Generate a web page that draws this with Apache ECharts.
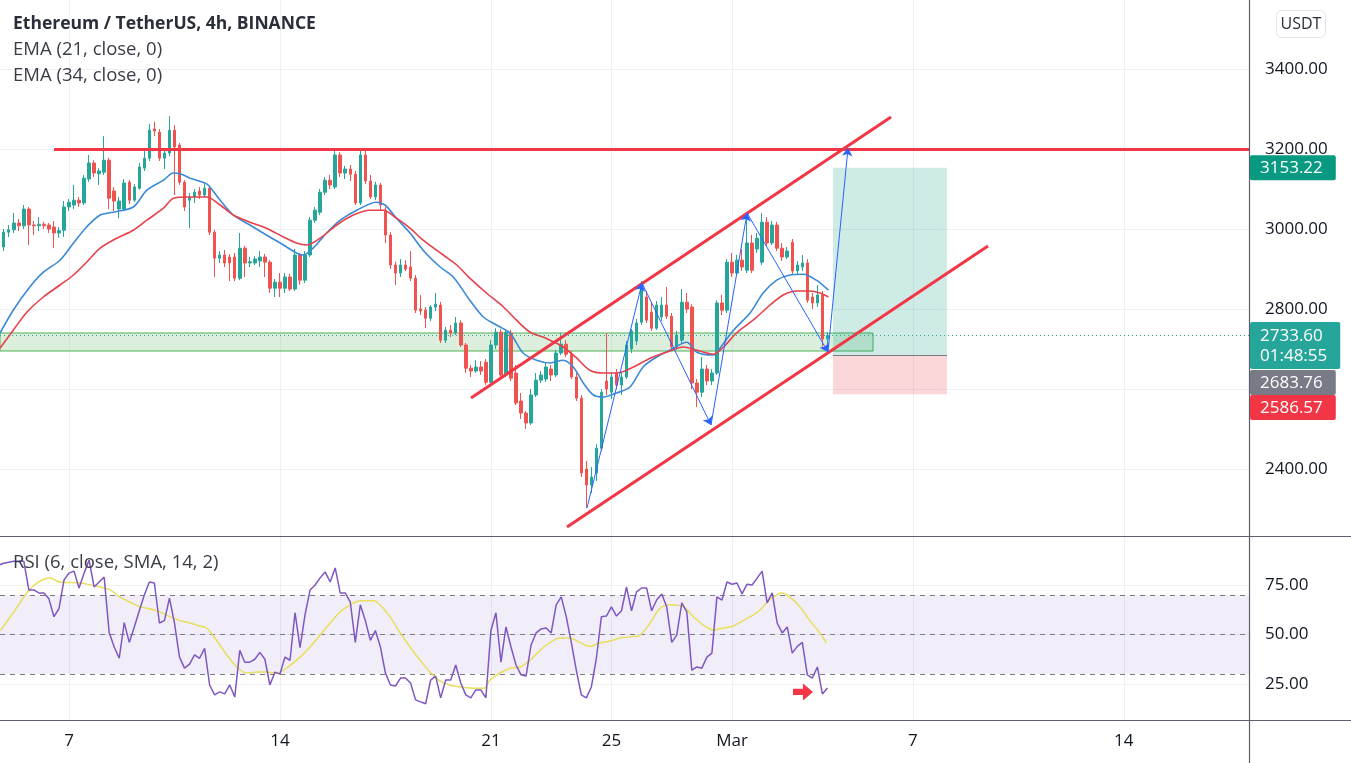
<!DOCTYPE html>
<html><head><meta charset="utf-8">
<script src="https://cdn.jsdelivr.net/npm/echarts@6/dist/echarts.min.js"></script>
<style>html,body{margin:0;padding:0;background:#fff}#c{width:1351px;height:763px}</style>
</head><body><div id="c"></div>
<script>
const FONT = '"Open Sans", "Noto Sans", sans-serif';
// time unit: days since 2022-02-01 00:00; 4h candles
const startDay = 3 + 16 / 24;   // first candle: Feb 4, 16:00
const stepDay = 4 / 24;
const xMin = 3.7104, xMax = 45.1558;

// [open, close, low, high]
const candles = [
[2875,2955,2860,2968],[2955,2992,2945,3000],[2992,2998,2980,3010],[2998,3015,2990,3040],[3015,3008,2995,3025],
[3008,3050,3000,3060],[3050,3010,2960,3055],[3010,3008,2985,3020],[3008,3012,2995,3030],[3012,3008,3000,3018],
[3010,3000,2990,3015],[3005,2990,2952,3020],[2990,2996,2978,3005],[2997,3055,2980,3070],[3055,3067,3045,3075],
[3060,3072,3050,3110],[3072,3065,3055,3080],[3065,3127,3060,3135],[3125,3165,3118,3185],[3165,3140,3130,3172],
[3138,3145,3110,3152],[3142,3172,3135,3232],[3172,3077,3050,3178],[3095,3070,3045,3105],[3050,3070,3027,3080],
[3050,3115,3045,3125],[3117,3072,3062,3122],[3072,3105,3068,3112],[3102,3155,3098,3165],[3152,3177,3145,3200],
[3177,3247,3170,3262],[3250,3245,3232,3268],[3242,3177,3170,3250],[3177,3190,3150,3200],[3190,3247,3182,3282],
[3247,3205,3085,3260],[3210,3117,3110,3215],[3117,3055,3045,3122],[3072,3080,3002,3090],[3080,3092,3065,3100],
[3095,3085,3075,3105],[3085,3102,3080,3115],[3102,2992,2985,3108],[2992,2927,2880,2998],[2927,2935,2915,2945],
[2935,2915,2905,2948],[2930,2915,2870,2937],[2930,2877,2870,2940],[2877,2952,2872,2990],[2952,2915,2880,2958],
[2915,2918,2905,2930],[2915,2925,2910,2932],[2920,2930,2905,2945],[2930,2917,2880,2938],[2917,2852,2840,2922],
[2852,2867,2830,2875],[2867,2852,2830,2890],[2852,2880,2840,2890],[2880,2850,2845,2888],[2850,2935,2845,2950],
[2935,2872,2860,2940],[2872,2935,2865,2945],[2935,3022,2930,3030],[3022,3047,3015,3055],[3042,3092,3035,3100],
[3092,3122,3085,3130],[3122,3110,3100,3135],[3105,3185,3100,3200],[3185,3140,3130,3192],[3140,3150,3125,3158],
[3150,3137,3120,3160],[3137,3065,3060,3145],[3065,3185,3060,3195],[3185,3120,3112,3195],[3120,3080,3075,3135],
[3080,3110,3072,3118],[3110,3060,3045,3115],[3047,2985,2965,3055],[2985,2910,2900,2992],[2910,2890,2860,2918],
[2890,2910,2880,2925],[2910,2900,2895,2922],[2905,2877,2870,2945],[2877,2797,2790,2885],[2800,2795,2785,2835],
[2797,2777,2752,2805],[2777,2805,2770,2810],[2805,2812,2795,2840],[2810,2722,2715,2818],[2722,2747,2715,2755],
[2747,2740,2730,2760],[2740,2765,2735,2780],[2765,2710,2705,2772],[2710,2652,2640,2715],[2652,2645,2630,2660],
[2645,2655,2640,2672],[2655,2645,2635,2670],[2667,2617,2610,2675],[2617,2710,2612,2722],[2710,2742,2700,2752],
[2742,2635,2625,2750],[2635,2742,2630,2748],[2740,2627,2620,2748],[2640,2565,2560,2660],[2570,2540,2525,2590],
[2540,2515,2500,2545],[2515,2585,2510,2600],[2585,2622,2580,2640],[2622,2635,2615,2645],[2625,2655,2618,2665],
[2650,2635,2620,2660],[2635,2690,2630,2698],[2690,2712,2685,2740],[2712,2687,2680,2722],[2687,2630,2625,2695],
[2630,2577,2570,2640],[2577,2390,2380,2585],[2400,2360,2302,2420],[2360,2380,2340,2405],[2390,2452,2370,2462],
[2452,2592,2445,2600],[2620,2600,2585,2740],[2592,2630,2575,2640],[2640,2610,2600,2650],[2610,2630,2585,2640],
[2630,2710,2625,2720],[2700,2745,2690,2750],[2720,2765,2710,2775],[2767,2855,2760,2870],[2830,2772,2765,2845],
[2792,2752,2745,2815],[2752,2810,2748,2820],[2780,2810,2770,2830],[2810,2782,2775,2855],[2782,2705,2700,2790],
[2705,2735,2698,2745],[2722,2817,2715,2850],[2817,2800,2790,2840],[2805,2615,2600,2812],[2615,2592,2555,2625],
[2592,2650,2580,2680],[2650,2620,2610,2660],[2620,2640,2610,2650],[2640,2815,2635,2822],[2815,2797,2785,2835],
[2797,2917,2790,2925],[2917,2890,2880,2940],[2890,2922,2885,2935],[2922,2905,2895,2950],[2897,2965,2890,3040],
[2965,2897,2890,2985],[2950,2977,2940,2990],[2917,3017,2910,3040],[3017,2965,2955,3030],[2965,3010,2960,3020],
[3010,2952,2945,3018],[2952,2930,2920,2965],[2930,2945,2925,2955],[2967,2895,2885,2975],[2895,2910,2885,2920],
[2905,2915,2895,2935],[2915,2822,2815,2925],[2830,2815,2800,2840],[2815,2835,2805,2860],[2835,2725,2700,2845],
[2725,2733.6,2690,2742]
];

// RSI(6) per candle
const rsi = [85,86,86.5,87,87,87,72.5,72.5,71,71,68,59,63,77.5,81,82,73.5,81,87.6,74,76.5,79,51,43.7,38,56,46,53.8,62,70,
76.5,76,55.8,57,68.4,55.8,38.6,33,35,39.7,38,43,24.5,19.5,21,20,24.5,18.4,42,36,36,37.5,41,37.5,24.5,31,30,38.6,37,61,
43.4,60,72.5,75,78.6,81.6,76.5,83.6,71,71,66.4,46,65,57,47,52,43.7,30.5,24.5,24,28,28,25.5,17,16,15,27,29,18,27,
27,34.6,25.5,19.5,18,22,22,18,52,61,36,53.8,43.7,34.6,29.6,29,44.7,50.8,52.8,53.3,50.8,65,69,59,46,32,19.5,18,23.5,38,
59,59.3,64,59.3,62,74,62,71.5,73.5,73.5,62,67.4,70.5,64,46,49.7,66,61.4,32,33.6,33,38.6,40.6,69,67.4,76.5,75.4,76,70.5,75.4,
75,78.5,82,66,71,55.8,50.8,53.8,40.6,44,46,29.6,28,33.6,20,23];

// RSI-based SMA(14), read at points: [candle index, value]
const rsiMA = [[0.3,52],[2.9,61],[5.6,71],[7.6,76],[10.2,78.5],[12.2,76.5],[16.2,76],[20.2,74],[22.2,72.5],[24.1,69],[26.1,66.4],
[28.1,64],[30.1,63],[32.1,61.4],[34.1,59],[36.1,57],[38.1,55.8],[40.1,54.3],[41.4,53.3],[43.4,47],[45.4,39.7],[47.4,33.6],
[49.4,30.5],[51.4,31],[53.3,31],[55.3,30.5],[57.3,33],[60,38.6],[62,43.7],[64,49.7],[66,55.8],[68,61.4],[70,65],[72,67],
[74.6,67],[75.9,65],[77.9,59],[79.9,51],[81.9,43.7],[83.9,37],[85.9,31],[87.9,26.5],[89.8,24.5],[91.8,23.5],[93.8,23],
[95.8,22.8],[96.8,23],[97.8,27],[99.8,30.5],[101.8,33],[103.8,33.6],[105.8,37],[107.8,42],[109.8,46],[111.7,48.2],
[113.7,48.2],[115.7,46],[117.7,44],[119.7,45.7],[121.7,46.7],[123.7,48.2],[125.7,48.8],[127.7,49.7],[129.7,55.8],
[131.6,63],[133.6,65],[136.3,64],[138.3,59],[140.3,54.8],[142.3,52.3],[144.3,53.3],[146.3,54.3],[148.2,57],[150.2,59.8],
[151.6,62.4],[152.9,66],[154.2,69],[155.9,71],[157.5,69],[159.5,64],[161.5,57],[163.5,50.8],[164.8,45.7]];

// EMA lines read at points: [candle index, price]
const ema21 = [[0.26,2740],[2.9,2797],[6.2,2855],[8.9,2892],[12.2,2922],[14.9,2965],[17.5,3005],[20.2,3035],[22.8,3042],
[26.8,3055],[29.5,3097],[32.8,3122],[34.8,3140],[36.4,3137],[38.1,3127],[40.7,3117],[41.7,3110],[44.1,3072],[46.7,3035],
[50,3010],[53.3,2985],[56.7,2960],[59,2942],[60.6,2935],[62.6,2952],[65.3,2990],[68,3022],[71.3,3047],[75.2,3067],
[76.9,3060],[79.2,3027],[81.9,2990],[84.5,2947],[87.9,2905],[90.5,2880],[93.8,2822],[96.5,2780],[99.1,2760],[101.8,2740],
[104.4,2690],[107.1,2672],[109.8,2665],[112.4,2672],[114.4,2655],[116.4,2615],[118.4,2585],[120.4,2580],[123,2590],
[125.7,2605],[128.3,2655],[131,2680],[133.6,2697],[137,2717],[139,2692],[142.3,2685],[143.6,2702],[146.3,2747],
[149.6,2790],[152.2,2840],[154.9,2872],[157.5,2885],[160.2,2887],[162.8,2872],[165.2,2847]];
const ema34 = [[0.26,2702],[2.9,2747],[5.6,2792],[8.9,2830],[12.2,2860],[14.9,2885],[17.5,2917],[20.2,2952],[23.5,2977],
[26.8,2997],[29.5,3022],[32.8,3052],[34.8,3077],[37.4,3080],[41.4,3080],[44.1,3060],[46.7,3035],[50,3017],[53.3,3002],
[56.7,2980],[59.3,2965],[61.3,2960],[64,2977],[67.3,3010],[70.6,3035],[73.9,3047],[76.6,3047],[79.2,3027],[81.9,3002],
[84.5,2972],[88.5,2935],[91.2,2910],[93.8,2877],[97.1,2840],[100.5,2805],[103.1,2772],[105.8,2742],[108.4,2730],
[109.8,2722],[112.4,2705],[115.1,2677],[117.7,2647],[120.4,2640],[123,2640],[126.4,2655],[129.7,2677],[133,2692],
[136.3,2705],[139,2697],[142.3,2687],[144.3,2705],[146.9,2740],[150.2,2772],[153.6,2810],[156.2,2835],[158.9,2845],
[161.5,2845],[163.5,2840],[165.2,2830]];

const timeTicks = [6, 13, 20, 24, 28, 34, 41];
const timeTickLabels = ['7', '14', '21', '25', 'Mar', '7', '14'];
const priceTicks = [2400, 2600, 2800, 3000, 3200, 3400];
const rsiTicks = [25, 50, 75];

// drawings (data coordinates: [day, price])
const resistance = [[5.502, 3200], [xMax, 3200]];
const channelUpper = [[19.340, 2577.5], [33.277, 3280]];
const channelLower = [[22.525, 2255], [36.495, 2957.5]];
const zigzag = [[23.189, 2302.5], [25.014, 2865], [27.304, 2510], [28.499, 3040], [31.186, 2692.5], [31.850, 3202.5]];
const zone = [[xMin, 2740], [32.680, 2695]];
const posX = [31.352, 35.135];
const target = 3153.22, entry = 2683.76, stop = 2586.57;
const lastPrice = 2733.60, countdown = '01:48:55';
const rsiArrow = [30.356, 21];

const day = i => startDay + i * stepDay;
const candleData = candles.map((c, i) => [day(i), c[0], c[1], c[2], c[3]]);
const rsiData = rsi.map((v, i) => [day(i), v]);
const pts = arr => arr.map(p => [day(p[0]), p[1]]);

const RED = '#f23645';
const seg = (a, b, color, width, arrow) => [
  {coord: a, symbol: 'none', lineStyle: {color, width, type: 'solid'}},
  {coord: b, symbol: arrow ? 'arrow' : 'none', symbolSize: arrow ? 8 : 0, lineStyle: {color, width, type: 'solid'}}
];
const drawLines = [
  seg(resistance[0], resistance[1], RED, 3),
  seg(channelUpper[0], channelUpper[1], RED, 3),
  seg(channelLower[0], channelLower[1], RED, 3),
  seg([posX[0], entry], [posX[1], entry], '#787b86', 1)
];
for (let k = 0; k < zigzag.length - 1; k++) drawLines.push(seg(zigzag[k], zigzag[k + 1], '#2962ff', 1, true));
drawLines.push({yAxis: lastPrice, lineStyle: {color: '#26a69a', width: 1, type: [1, 3]}});

const gridColor = '#eef0f4';
const labelColor = '#131722';
const xAxisBase = (g, showLabel) => ({
  type: 'value', gridIndex: g, min: xMin, max: xMax,
  axisLine: {show: false},
  axisTick: {show: false, customValues: timeTicks},
  axisLabel: {show: showLabel, customValues: timeTicks, margin: 13,
    formatter: v => timeTickLabels[timeTicks.indexOf(v)] || '',
    fontSize: 17, fontFamily: FONT, color: labelColor},
  splitLine: {show: true, lineStyle: {color: gridColor, width: 1}}
});

const chart = echarts.init(document.getElementById('c'), null, {width: 1351, height: 763});
chart.setOption({
  animation: false,
  backgroundColor: '#ffffff',
  grid: [
    {left: 0, right: 102, top: 0, height: 536, outerBoundsMode: 'none'},
    {left: 0, right: 102, top: 537, height: 183, outerBoundsMode: 'none'}
  ],
  xAxis: [xAxisBase(0, false), xAxisBase(1, true)],
  yAxis: [
    {type: 'value', gridIndex: 0, position: 'right', min: 2232.5, max: 3572.5, scale: true,
      axisLine: {show: false}, axisTick: {show: false, customValues: priceTicks},
      axisLabel: {customValues: priceTicks, formatter: v => v.toFixed(2), margin: 16,
        fontSize: 17, fontFamily: FONT, color: labelColor},
      splitLine: {show: true, lineStyle: {color: gridColor}}},
    {type: 'value', gridIndex: 1, position: 'right', min: 6.82, max: 99.24,
      axisLine: {show: false}, axisTick: {show: false, customValues: rsiTicks},
      axisLabel: {customValues: rsiTicks, formatter: v => v.toFixed(2), margin: 16,
        fontSize: 17, fontFamily: FONT, color: labelColor},
      splitLine: {show: true, lineStyle: {color: gridColor}}}
  ],
  series: [
    {type: 'candlestick', xAxisIndex: 0, yAxisIndex: 0, barWidth: 3,
      dimensions: ['t', 'open', 'close', 'low', 'high'],
      encode: {x: 't', y: ['open', 'close', 'low', 'high']},
      data: candleData,
      itemStyle: {color: '#26a69a', color0: '#ef5350', borderColor: '#26a69a', borderColor0: '#ef5350', borderWidth: 1},
      markArea: {silent: true, data: [
        [{coord: zone[0], itemStyle: {color: 'rgba(76,175,80,0.2)', borderColor: '#4caf50', borderWidth: 1}}, {coord: zone[1]}],
        [{coord: [posX[0], target], itemStyle: {color: 'rgba(8,153,129,0.2)'}}, {coord: [posX[1], entry]}],
        [{coord: [posX[0], entry], itemStyle: {color: 'rgba(242,54,69,0.2)'}}, {coord: [posX[1], stop]}]
      ]}
    },
    {type: 'line', name: 'EMA21', xAxisIndex: 0, yAxisIndex: 0, data: pts(ema21), smooth: 0.3,
      showSymbol: false, lineStyle: {color: '#3a8ad8', width: 1.6}, z: 3},
    {type: 'line', name: 'EMA34', xAxisIndex: 0, yAxisIndex: 0, data: pts(ema34), smooth: 0.3,
      showSymbol: false, lineStyle: {color: '#e8404a', width: 1.6}, z: 3,
      markLine: {silent: true, symbol: ['none', 'none'], label: {show: false}, data: drawLines}
    },
    {type: 'line', name: 'RSI', xAxisIndex: 1, yAxisIndex: 1, data: rsiData,
      showSymbol: false, lineStyle: {color: '#7e57c2', width: 1.5}, z: 3,
      markArea: {silent: true, data: [[{yAxis: 70, itemStyle: {color: 'rgba(126,87,194,0.1)'}}, {yAxis: 30}]]},
      markLine: {silent: true, z: 1, symbol: ['none', 'none'], label: {show: false},
        lineStyle: {color: '#787b86', width: 1, type: [5, 5]},
        data: [{yAxis: 70}, {yAxis: 50}, {yAxis: 30}]},
      markPoint: {silent: true, data: [{coord: rsiArrow}],
        symbol: 'path://M2,7 L11,7 L11,2 L20,10 L11,18 L11,13 L2,13 Z', symbolSize: [20, 17],
        itemStyle: {color: RED}, label: {show: false}}
    },
    {type: 'line', name: 'RSI MA', xAxisIndex: 1, yAxisIndex: 1, data: pts(rsiMA), smooth: 0.3,
      showSymbol: false, lineStyle: {color: '#e8de5c', width: 1.5}, z: 2}
  ]
});

const yPix = v => chart.convertToPixel({yAxisIndex: 0}, v);
const badge = (text, bg, top, lh) => ({
  type: 'text', x: 1250, y: top, z: 100,
  style: {text, font: '17px ' + FONT, fill: '#ffffff', backgroundColor: bg, padding: [4, 13, 3, 10],
    lineHeight: lh, verticalAlign: 'top', align: 'left', borderRadius: 2}
});
const tealTop = yPix(lastPrice) - 13.5;
const txt = (text, x, y, font, fill) => ({type: 'text', x, y, z: 100,
  style: {text, font, fill, verticalAlign: 'middle', align: 'left'}});
const hline = (y) => ({type: 'line', z: 100, shape: {x1: 0, y1: y, x2: 1351, y2: y}, style: {stroke: '#5d606b', lineWidth: 1.2}});
chart.setOption({
  graphic: [
    txt('Ethereum / TetherUS, 4h, BINANCE', 13, 24, 'bold 17.5px ' + FONT, '#2a2e39'),
    txt('EMA (21, close, 0)', 13, 50, '18.5px ' + FONT, '#3a3d47'),
    txt('EMA (34, close, 0)', 13, 76, '18.5px ' + FONT, '#3a3d47'),
    txt('RSI (6, close, SMA, 14, 2)', 13, 563, '18.5px ' + FONT, '#3a3d47'),
    {type: 'rect', z: 100, shape: {x: 1276.5, y: 10.5, width: 49, height: 27, r: 5}, style: {fill: '#fff', stroke: '#e0e3eb', lineWidth: 1}},
    {type: 'text', z: 101, x: 1301, y: 24, style: {text: 'USDT', font: '16px ' + FONT, fill: '#2a2e39', align: 'center', verticalAlign: 'middle'}},
    hline(536.5), hline(720.5),
    {type: 'line', z: 100, shape: {x1: 1249.5, y1: 0, x2: 1249.5, y2: 763}, style: {stroke: '#5d606b', lineWidth: 1.2}},
    badge(target.toFixed(2), '#089981', yPix(target) - 12.5, 18),
    badge(lastPrice.toFixed(2) + '\n' + countdown, '#26a69a', tealTop, 20),
    badge(entry.toFixed(2), '#787b86', tealTop + 48, 18),
    badge(stop.toFixed(2), RED, tealTop + 73, 18)
  ]
});
</script>
</body></html>
